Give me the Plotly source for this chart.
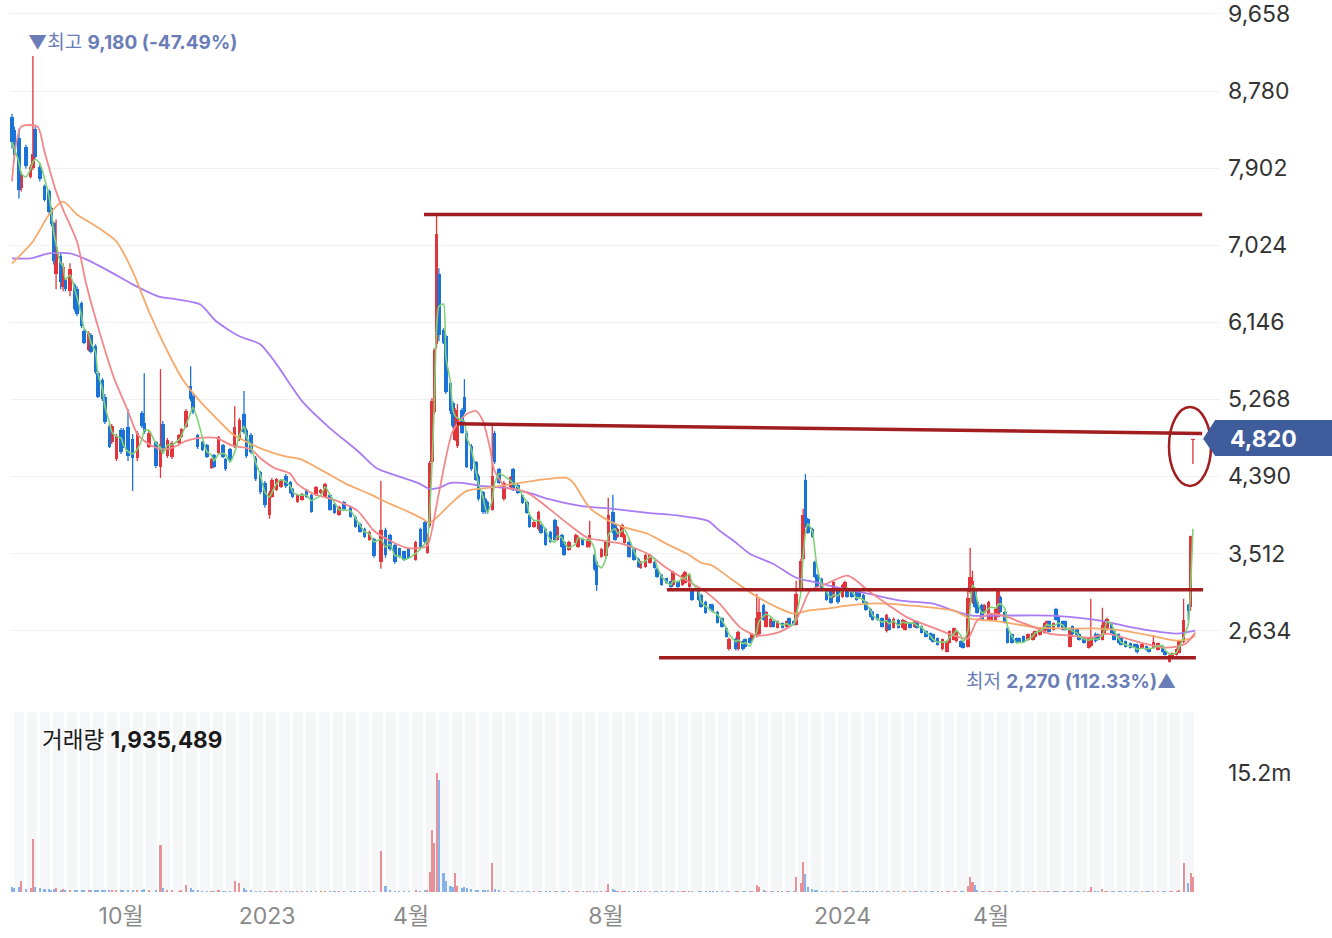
import pandas as pd
import plotly.graph_objects as go

# ---------------- data ----------------
# x position = trading-day number counted from the first visible candle
day = [0,1,3,4,6,8,9,10,12,14,
       16,17,18,19,21,22,23,25,27,28,
       30,31,33,34,36,37,39,40,42,43,
       45,47,48,50,52,54,56,57,59,62,
       64,65,67,69,72,73,75,77,78,80,
       82,84,86,87,89,91,92,94,96,98,
       100,101,103,105,107,109,111,112,114,116,
       118,120,121,123,125,127,129,131,133,135,
       137,139,141,143,146,148,150,152,154,156,
       159,161,163,165,167,169,171,174,176,178,
       179,180,181,182,183,184,186,187,189,190,
       191,192,194,195,196,198,200,201,203,204,
       205,207,208,210,212,215,216,218,220,222,
       223,225,227,228,230,232,234,235,237,238,
       240,243,244,246,248,249,251,252,254,256,
       257,259,260,261,263,264,266,268,270,271,
       273,275,277,278,280,282,284,285,287,289,
       290,292,293,296,297,299,301,302,304,306,
       308,309,312,313,315,316,318,319,321,322,
       324,325,327,328,330,332,334,335,337,338,
       340,341,342,343,345,346,347,349,351,353,
       354,356,358,359,360,362,364,365,367,368,
       370,371,373,375,377,378,380,382,384,385,
       387,389,390,392,394,396,397,399,401,403,
       404,406,407,409,410,412,413,414,415,416,
       418,419,421,422,424,425,426,428,429,431,
       433,434,436,438,440,441,443,445,446,447,
       449,450,451,453,454,456,457,459,460,462,
       464,465,467,468,470,471,472,474,475,477,
       478,480,482,484,485,487,489,490,492,494,
       496,497,499,500,502,503,505,507,508,509]

open_ = [8480,8340,8250,7680,8140,7800,7900,8350,7920,7700,
         7640,7450,7280,6700,6900,6550,6630,6500,6570,6520,
         6370,6050,5830,6000,5880,5570,5490,5300,4970,4780,
         4590,4920,4920,4950,4820,4600,5110,5000,4730,4780,
         4500,4990,4620,4610,4770,4840,4950,5420,5310,4860,
         4780,4750,4490,4630,4660,4750,4590,4700,4730,4810,
         5100,4920,4860,4600,4440,4320,3950,4160,4240,4270,
         4400,4330,4250,4100,4120,4240,4180,4180,4200,4160,
         4180,4080,3950,4100,4045,3930,3850,3795,3665,3680,
         3420,3780,3720,3610,3570,3535,3570,3440,3790,3870,
         3520,3820,4560,5120,5900,6700,6060,5990,5450,5230,
         4810,4740,5150,5300,4890,4740,4550,4400,4210,4130,
         4100,4010,4880,4480,4130,4270,4470,4295,4180,4100,
         3955,3815,3790,3840,3795,3760,3890,3670,3725,3645,
         3555,3635,3590,3680,3590,3600,3500,3420,3475,3480,
         3600,3980,3840,3700,3700,3635,3645,3565,3455,3350,
         3360,3405,3420,3340,3270,3230,3195,3155,3195,3155,
         3180,3135,3115,3080,3045,2965,2935,2930,2850,2775,
         2660,2420,2540,2420,2510,2535,2545,2530,2570,2590,
         2930,2680,2680,2740,2665,2720,2675,2775,2740,2700,
         3100,3450,4350,3905,3795,3420,3270,3225,3080,3080,
         3020,3110,3020,3100,3115,3100,3080,3080,3045,2965,
         2885,2850,2820,2775,2625,2770,2665,2760,2665,2645,
         2720,2675,2740,2685,2625,2605,2590,2545,2420,2395,
         2495,2530,2510,2515,2490,2450,3070,2960,3080,2965,
         2930,2840,2760,2755,2760,2790,3020,2850,2660,2590,
         2545,2545,2570,2525,2530,2560,2585,2610,2640,2740,
         2640,2885,2795,2740,2740,2450,2685,2650,2590,2545,
         2440,2460,2600,2590,2530,2610,2645,2705,2625,2590,
         2545,2510,2490,2480,2475,2435,2455,2435,2435,2415,
         2455,2400,2280,2335,2360,2380,2500,2930,2900,4800]

high = [8522,8374,8351,7862,8169,7942,9180,8374,7942,7715,
        7658,7465,7294,7317,6930,6817,6646,6817,6589,6555,
        6385,6067,6044,6021,5896,5589,5510,5328,4987,4987,
        4873,4941,4941,5157,4873,4907,5135,5566,4907,4794,
        5612,5021,4828,4794,4873,4941,5157,5646,5328,4873,
        4794,4759,4600,4646,4850,4759,4600,4714,5190,5055,
        5362,4941,4884,4623,4453,4339,4225,4373,4373,4362,
        4418,4339,4259,4191,4202,4248,4191,4282,4248,4316,
        4191,4089,4055,4112,4055,3941,3862,3805,3771,3691,
        4339,3805,3737,3623,3577,3543,3577,3657,3805,3884,
        3737,4566,5282,5851,7374,6760,6078,6010,5476,5248,
        5169,5214,5169,5498,4907,4759,4566,4418,4225,4146,
        4112,4987,4907,4487,4339,4396,4487,4305,4191,4112,
        3964,3884,3998,3850,3805,3771,3907,3827,3737,3657,
        3657,3737,3714,3691,3680,3884,3509,3430,3577,3657,
        4146,4180,3850,3805,3850,3737,3657,3577,3464,3430,
        3509,3509,3430,3350,3282,3236,3202,3316,3202,3282,
        3316,3282,3123,3089,3055,2975,2941,2941,2861,2782,
        2668,2554,2554,2634,2520,2543,2554,2600,3055,3009,
        2941,2861,2782,2748,2748,2725,2748,2782,2748,3202,
        3452,4021,4418,3918,3805,3430,3282,3236,3089,3089,
        3202,3123,3168,3202,3123,3111,3089,3089,3055,2975,
        2895,2861,2827,2782,2827,2782,2782,2770,2770,2748,
        2725,2748,2748,2691,2634,2611,2600,2554,2543,2520,
        2634,2668,2634,2520,2498,3123,3577,3316,3089,2975,
        2941,2941,2975,2827,2895,3089,3032,2861,2668,2600,
        2554,2554,2577,2600,2611,2634,2668,2725,2748,2748,
        2725,2895,2805,2748,2748,2668,2691,2657,2600,2554,
        2554,2998,2611,2600,2895,2748,2782,2714,2634,2600,
        2554,2520,2498,2486,2486,2486,2463,2441,2577,2498,
        2463,2407,2373,2384,2429,2520,2998,2941,3714,4820]

low = [8124,7976,7555,7635,7896,7783,7880,8010,7749,7521,
       7374,7237,6805,6521,6521,6498,6498,6442,6271,6214,
       6078,5896,5816,5793,5555,5282,5248,4987,4714,4759,
       4566,4646,4714,4566,4225,4566,4941,4873,4714,4487,
       4373,4646,4600,4589,4759,4828,4941,5248,5100,4703,
       4680,4600,4475,4487,4646,4600,4453,4566,4714,4794,
       4873,4600,4646,4339,4191,4032,3907,4146,4225,4259,
       4259,4191,4146,4089,4112,4146,3975,4168,4191,4146,
       3998,3964,3941,3998,3918,3805,3748,3691,3657,3464,
       3339,3464,3543,3396,3464,3430,3452,3430,3577,3623,
       3509,3805,4532,5100,5850,5930,5896,5328,5100,4941,
       4794,4714,4873,5100,4487,4453,4339,4112,3964,3964,
       3964,3998,4532,4305,4112,4259,4225,4191,4077,3964,
       3805,3805,3771,3737,3600,3634,3657,3657,3577,3487,
       3543,3623,3577,3600,3577,3577,3316,3089,3464,3464,
       3577,3737,3657,3691,3691,3623,3464,3430,3350,3339,
       3350,3396,3339,3236,3145,3168,3123,3145,3123,3145,
       3168,3123,2975,2975,2895,2827,2861,2839,2714,2668,
       2554,2407,2407,2407,2407,2441,2486,2520,2554,2577,
       2748,2668,2668,2668,2657,2657,2668,2668,2691,2691,
       3089,3430,3805,3737,3691,3236,3123,3089,2975,2941,
       3009,2941,3009,3089,3009,3009,2975,3009,2941,2861,
       2782,2748,2748,2668,2611,2634,2657,2657,2657,2634,
       2657,2668,2657,2600,2554,2520,2498,2463,2407,2384,
       2486,2520,2498,2441,2429,2441,3055,2941,2895,2827,
       2748,2827,2748,2748,2748,2782,2839,2714,2486,2486,
       2486,2498,2498,2520,2520,2554,2577,2600,2634,2611,
       2634,2748,2668,2634,2634,2441,2577,2577,2520,2486,
       2429,2441,2498,2520,2520,2600,2634,2600,2520,2486,
       2463,2441,2429,2429,2373,2429,2407,2384,2429,2407,
       2384,2350,2270,2327,2350,2373,2486,2748,2861,4532]

close = [8200,8050,7650,7820,7930,7920,8060,8030,7780,7540,
         7400,7260,6840,7000,6600,6780,6520,6750,6300,6240,
         6100,5910,6020,5810,5580,5300,5270,5010,4730,4960,
         4850,4670,4730,4620,4600,4880,4960,4900,4890,4510,
         4760,4680,4800,4770,4860,4930,5140,5270,5120,4720,
         4690,4610,4590,4500,4840,4610,4470,4580,4950,5030,
         4900,4620,4670,4360,4210,4060,4200,4350,4360,4350,
         4280,4200,4160,4180,4190,4160,3990,4270,4240,4300,
         4010,3975,4045,4010,3930,3815,3760,3700,3760,3480,
         3780,3500,3560,3410,3475,3440,3460,3640,3590,3640,
         3720,4540,5250,5830,7150,6000,5910,5350,5130,4960,
         5150,5050,4890,5120,4500,4470,4350,4130,3985,3980,
         3980,4400,4550,4320,4320,4380,4240,4200,4090,3975,
         3815,3875,3980,3745,3610,3645,3670,3815,3590,3500,
         3645,3725,3700,3610,3670,3720,3330,3150,3565,3640,
         3950,3760,3670,3795,3840,3725,3475,3440,3360,3420,
         3500,3500,3350,3245,3155,3175,3130,3300,3130,3270,
         3300,3270,2985,2985,2905,2840,2870,2850,2725,2680,
         2565,2540,2420,2620,2420,2450,2495,2590,2780,2850,
         2760,2850,2770,2680,2740,2665,2740,2680,2700,3050,
         3430,3950,3850,3750,3700,3250,3135,3100,2985,2950,
         3190,2955,3155,3190,3020,3020,2985,3015,2950,2870,
         2790,2755,2755,2680,2810,2645,2770,2665,2760,2740,
         2665,2740,2665,2610,2565,2530,2505,2470,2535,2510,
         2625,2660,2625,2450,2440,3000,3250,3200,2905,2840,
         2760,2930,2960,2820,2885,3080,2850,2725,2495,2495,
         2495,2505,2505,2595,2605,2625,2660,2715,2740,2620,
         2720,2760,2680,2645,2645,2650,2590,2585,2530,2495,
         2545,2560,2510,2530,2700,2740,2770,2610,2530,2495,
         2475,2450,2440,2435,2385,2480,2415,2390,2500,2490,
         2395,2355,2360,2380,2420,2510,2750,2855,3710,4820]

# traded volume, millions of shares
volume_m = [0.6,0.5,0.7,1.4,0.4,0.5,6.8,0.7,0.5,0.4,
            0.4,0.3,0.4,0.5,0.3,0.4,0.2,0.3,0.3,0.2,
            0.2,0.2,0.2,0.2,0.3,0.2,0.2,0.3,0.2,0.2,
            0.3,0.2,0.2,0.3,0.3,0.2,0.2,0.4,0.2,0.2,
            6.0,0.5,0.2,0.2,0.15,0.2,0.9,0.5,0.3,0.2,
            0.15,0.15,0.15,0.15,0.2,0.15,0.1,0.15,1.4,1.1,
            0.5,0.3,0.2,0.15,0.15,0.1,0.15,0.1,0.1,0.08,
            0.08,0.08,0.08,0.1,0.08,0.08,0.08,0.1,0.08,0.08,
            0.08,0.08,0.08,0.08,0.08,0.08,0.08,0.08,0.1,0.08,
            5.2,0.8,0.3,0.1,0.1,0.1,0.15,0.2,0.15,0.2,
            0.3,2.5,8.0,6.3,15.2,14.4,2.4,1.4,0.8,0.6,
            2.4,0.8,0.5,0.6,0.5,0.4,0.3,0.3,0.3,0.2,
            0.2,3.7,0.4,0.2,0.15,0.15,0.1,0.1,0.1,0.1,
            0.1,0.1,0.1,0.08,0.08,0.08,0.08,0.08,0.08,0.08,
            0.08,0.08,0.08,0.08,0.08,0.1,0.1,0.15,0.1,0.1,
            1.0,0.4,0.2,0.1,0.1,0.08,0.08,0.08,0.08,0.08,
            0.08,0.08,0.08,0.08,0.08,0.08,0.08,0.08,0.08,0.08,
            0.08,0.08,0.08,0.08,0.08,0.08,0.08,0.08,0.08,0.08,
            0.08,0.08,0.08,0.08,0.08,0.08,0.08,0.08,0.85,0.6,
            0.3,0.1,0.1,0.1,0.1,0.1,0.1,0.1,0.1,1.9,
            1.2,3.9,2.3,0.6,0.4,0.3,0.2,0.1,0.1,0.1,
            0.08,0.08,0.08,0.08,0.08,0.08,0.08,0.08,0.08,0.08,
            0.08,0.08,0.08,0.08,0.08,0.08,0.08,0.08,0.08,0.08,
            0.08,0.08,0.08,0.08,0.08,0.08,0.08,0.08,0.08,0.08,
            0.08,0.08,0.08,0.08,0.08,0.8,1.9,1.3,0.85,0.3,
            0.15,0.1,0.1,0.08,0.08,0.1,0.08,0.08,0.08,0.08,
            0.08,0.08,0.08,0.08,0.08,0.08,0.08,0.08,0.08,0.08,
            0.08,0.08,0.08,0.08,0.08,0.08,0.08,0.08,0.08,0.08,
            0.08,0.6,0.1,0.08,0.4,0.15,0.1,0.08,0.08,0.08,
            0.08,0.08,0.08,0.08,0.08,0.08,0.08,0.08,0.08,0.08,
            0.08,0.08,0.15,0.08,0.08,0.2,3.7,1.1,2.4,1.935489]

# moving averages (day, price)
ma20_day = [0,4,11,14,19,22,28,32,38,44,50,54,59,64,69,75,81,88,95,103,
            107,113,120,123,130,140,149,156,163,170,176,179,184,190,196,200,203,206,208,213,
            216,223,238,248,255,263,274,282,291,297,300,305,314,321,330,337,340,344,351,360,
            364,369,377,386,397,406,412,416,422,430,433,442,447,456,465,472,479,488,496,502,
            506,510]
ma20_val = [7749,8374,8374,8090,7635,7430,7066,6578,6010,5510,5135,4873,4759,4703,4714,4794,4828,4828,4740,4700,
            4600,4487,4418,4305,4191,4112,3998,3771,3657,3577,3577,3600,4200,4907,5100,5135,5021,4714,4453,4259,
            4250,4191,3884,3691,3657,3623,3509,3350,3202,3110,3055,2941,2668,2577,2611,2714,2861,3089,3168,3260,
            3202,3089,2941,2782,2668,2577,2543,2748,2827,2782,2748,2657,2600,2577,2554,2600,2554,2486,2441,2452,
            2486,2611]
ma60_day = [0,9,16,22,28,35,45,52,59,67,74,81,88,95,103,110,117,124,134,144,
            154,163,170,177,180,186,189,196,205,216,231,239,242,245,249,255,262,274,282,291,
            297,302,308,319,330,337,343,351,360,369,377,388,397,406,413,422,426,442,455,469,
            479,491,502,508,510]
ma60_val = [6817,7066,7374,7521,7374,7260,7066,6726,6271,5816,5476,5248,5055,4873,4759,4680,4623,4589,4453,4305,
            4191,4077,3998,3907,3862,3998,4077,4225,4259,4305,4362,4373,4316,4191,4032,3918,3827,3737,3623,3509,
            3407,3373,3260,3055,2895,2827,2861,2884,2918,2941,2941,2918,2895,2861,2770,2748,2736,2668,2657,2657,
            2634,2577,2520,2543,2577]
ma120_day = [0,8,16,25,32,42,52,63,71,81,88,98,107,114,121,125,137,149,157,166,
             175,180,184,189,194,202,213,223,231,245,259,274,288,300,305,311,318,328,338,347,
             356,369,383,397,406,414,426,447,459,469,479,491,502,510]
ma120_val = [6874,6874,6930,6930,6862,6726,6578,6442,6408,6351,6157,5987,5896,5669,5396,5248,4941,4680,4487,4396,
             4316,4248,4259,4316,4316,4282,4259,4202,4134,4055,4021,3975,3941,3884,3771,3657,3509,3396,3236,3180,
             3123,3055,2975,2941,2861,2805,2805,2805,2782,2748,2691,2634,2600,2634]

price_ticks = [2634, 3512, 4390, 5268, 6146, 7024, 7902, 8780, 9658]
month_days = [47, 110, 172, 256, 358, 422]
month_labels = ["10월", "2023", "4월", "8월", "2024", "4월"]

# hand-drawn lines on the chart: (day0, price0, day1, price1)
trend_lines = [(177.6, 7374, 513, 7374),
               (191.8, 4990, 513, 4880),
               (282.3, 3100, 513.4, 3100),
               (278.9, 2324, 510.3, 2324)]
# hand-drawn ellipse around the last candle: (day0, day1, price0, price1)
ellipse = (498.7, 516.8, 4282, 5180)

n = len(day)
assert all(len(a) == n for a in (open_, high, low, close, volume_m))

# ---------------- styling ----------------
RED = "#e2353b"
BLUE = "#1b72d8"
DRAW = "#a11d20"
FONT = "Inter, 'Noto Sans CJK KR', sans-serif"
X_LO = -0.862
X_HI = X_LO + 1210 / 2.32

up = [c >= o for o, c in zip(open_, close)]

fig = go.Figure()

# candle wicks
for flag, col in ((True, RED), (False, BLUE)):
    wx, wy = [], []
    for d, h, l, u in zip(day, high, low, up):
        if u == flag:
            wx += [d, d, None]
            wy += [l, h, None]
    fig.add_trace(go.Scatter(x=wx, y=wy, mode="lines", line=dict(color=col, width=1.3),
                             hoverinfo="skip", xaxis="x", yaxis="y"))

# candle bodies
for flag, col in ((True, RED), (False, BLUE)):
    bx = [d for d, u in zip(day, up) if u == flag]
    bbase = [min(o, c) for o, c, u in zip(open_, close, up) if u == flag]
    bh = [max(abs(c - o), 12) for o, c, u in zip(open_, close, up) if u == flag]
    fig.add_trace(go.Bar(x=bx, y=bh, base=bbase, width=1.5, marker=dict(color=col, line=dict(width=0)),
                         xaxis="x", yaxis="y"))

# moving averages
ma5 = pd.Series(close).rolling(3, min_periods=1).mean()
fig.add_trace(go.Scatter(x=ma120_day, y=ma120_val, mode="lines", line=dict(color="#a97bf3", width=1.8, shape="spline", smoothing=0.7), xaxis="x", yaxis="y"))
fig.add_trace(go.Scatter(x=ma60_day, y=ma60_val, mode="lines", line=dict(color="#f6a96a", width=1.8, shape="spline", smoothing=0.7), xaxis="x", yaxis="y"))
fig.add_trace(go.Scatter(x=ma20_day, y=ma20_val, mode="lines", line=dict(color="#f2888a", width=1.8, shape="spline", smoothing=0.7), xaxis="x", yaxis="y"))
fig.add_trace(go.Scatter(x=day, y=ma5, mode="lines", line=dict(color="#7fd277", width=1.6, shape="spline", smoothing=0.6), xaxis="x", yaxis="y"))

# volume
for flag, col in ((True, "rgba(226,120,128,0.8)"), (False, "rgba(100,155,228,0.75)")):
    vx = [d for d, u in zip(day, up) if u == flag]
    vy = [v for v, u in zip(volume_m, up) if u == flag]
    fig.add_trace(go.Bar(x=vx, y=vy, width=0.9, marker=dict(color=col, line=dict(width=0)),
                         xaxis="x2", yaxis="y2"))

vmax = max(volume_m)
fig.update_layout(
    width=1332, height=938,
    margin=dict(l=10, r=112, t=0, b=46),
    paper_bgcolor="white", plot_bgcolor="white",
    showlegend=False, barmode="overlay", bargap=0,
    font=dict(family=FONT),
    xaxis=dict(domain=[0, 1], range=[X_LO, X_HI], anchor="y", showgrid=False, showticklabels=False,
               zeroline=False, showline=False, ticks=""),
    yaxis=dict(domain=[0.2152, 1], range=[1838, 9794], side="right", tickmode="array",
               tickvals=price_ticks, ticktext=[f"{v:,}" for v in price_ticks],
               showgrid=True, gridcolor="#f0f0f0", gridwidth=1, zeroline=False, showline=False,
               ticks="", tickfont=dict(size=23, color="#333333", family=FONT), ticklabelstandoff=7,
               ticklabeloverflow="allow"),
    xaxis2=dict(domain=[0, 1], range=[X_LO, X_HI], anchor="y2", tickmode="array",
                tickvals=month_days, ticktext=month_labels, showgrid=False, zeroline=False,
                showline=False, ticks="", ticklabelstandoff=8,
                tickfont=dict(size=23, color="#8a8a8a", family=FONT),
                minor=dict(tickmode="linear", tick0=0, dtick=5.73, showgrid=True,
                           gridcolor="white", gridwidth=3, ticks="")),
    yaxis2=dict(domain=[0, 0.2018], range=[0, vmax * 180 / 119], side="right", tickmode="array",
                tickvals=[vmax], ticktext=[f"{vmax:.1f}m"], showgrid=False, zeroline=False,
                showline=False, ticks="", tickfont=dict(size=23, color="#333333", family=FONT),
                ticklabelstandoff=7),
)

# light striped background of the volume pane
fig.add_shape(type="rect", xref="x2", yref="y2 domain", x0=X_LO, x1=day[-1] + 2, y0=0, y1=1,
              fillcolor="#f5f6f8", line=dict(width=0), layer="below")

# hand-drawn lines and ellipse
for d0, p0, d1, p1 in trend_lines:
    fig.add_shape(type="line", xref="x", yref="y", x0=d0, y0=p0, x1=d1, y1=p1,
                  line=dict(color=DRAW, width=3.5))
fig.add_shape(type="circle", xref="x", yref="y", x0=ellipse[0], x1=ellipse[1],
              y0=ellipse[2], y1=ellipse[3], line=dict(color=DRAW, width=2.5))

# last price tag
last = close[-1]
fig.add_shape(type="path", xref="paper", yref="y", layer="above",
              path=f"M 0.9860,{last} L 0.9960,{last + 212} L 1.0926,{last + 212} "
                   f"L 1.0926,{last - 197} L 0.9960,{last - 197} Z",
              fillcolor="#3f5c9d", line=dict(width=0))
fig.add_annotation(xref="paper", yref="y", x=1.0066, y=last, xanchor="left", yanchor="middle",
                   text=f"<b>{last:,}</b>", showarrow=False,
                   font=dict(size=23, color="white", family=FONT))

# highest / lowest markers
i_hi = high.index(max(high))
i_lo = low.index(min(low))
pct_hi = (last / high[i_hi] - 1) * 100
pct_lo = (last / low[i_lo] - 1) * 100
fig.add_annotation(xref="x", yref="y", x=day[i_hi], y=high[i_hi], xanchor="left", yanchor="middle",
                   xshift=-7, yshift=13, showarrow=False,
                   text=f"▼최고 <b>{high[i_hi]:,} ({pct_hi:.2f}%)</b>",
                   font=dict(size=19, color="#6a7db6", family=FONT))
fig.add_annotation(xref="x", yref="y", x=day[i_lo], y=low[i_lo], xanchor="right", yanchor="middle",
                   xshift=8, yshift=-19, showarrow=False,
                   text=f"최저 <b>{low[i_lo]:,} ({pct_lo:.2f}%)</b>▲",
                   font=dict(size=19, color="#6a7db6", family=FONT))

# volume caption
fig.add_annotation(xref="paper", yref="paper", x=(40 - 10) / 1210, y=(892 - 739) / 892,
                   xanchor="left", yanchor="middle", showarrow=False,
                   text=f"거래량 <b>{round(volume_m[-1] * 1e6):,}</b>",
                   font=dict(size=22.5, color="#1a1a1a", family=FONT))

fig.write_html("out.html", config={"displayModeBar": False, "staticPlot": True},
               post_script="document.body.style.margin='0px';")
